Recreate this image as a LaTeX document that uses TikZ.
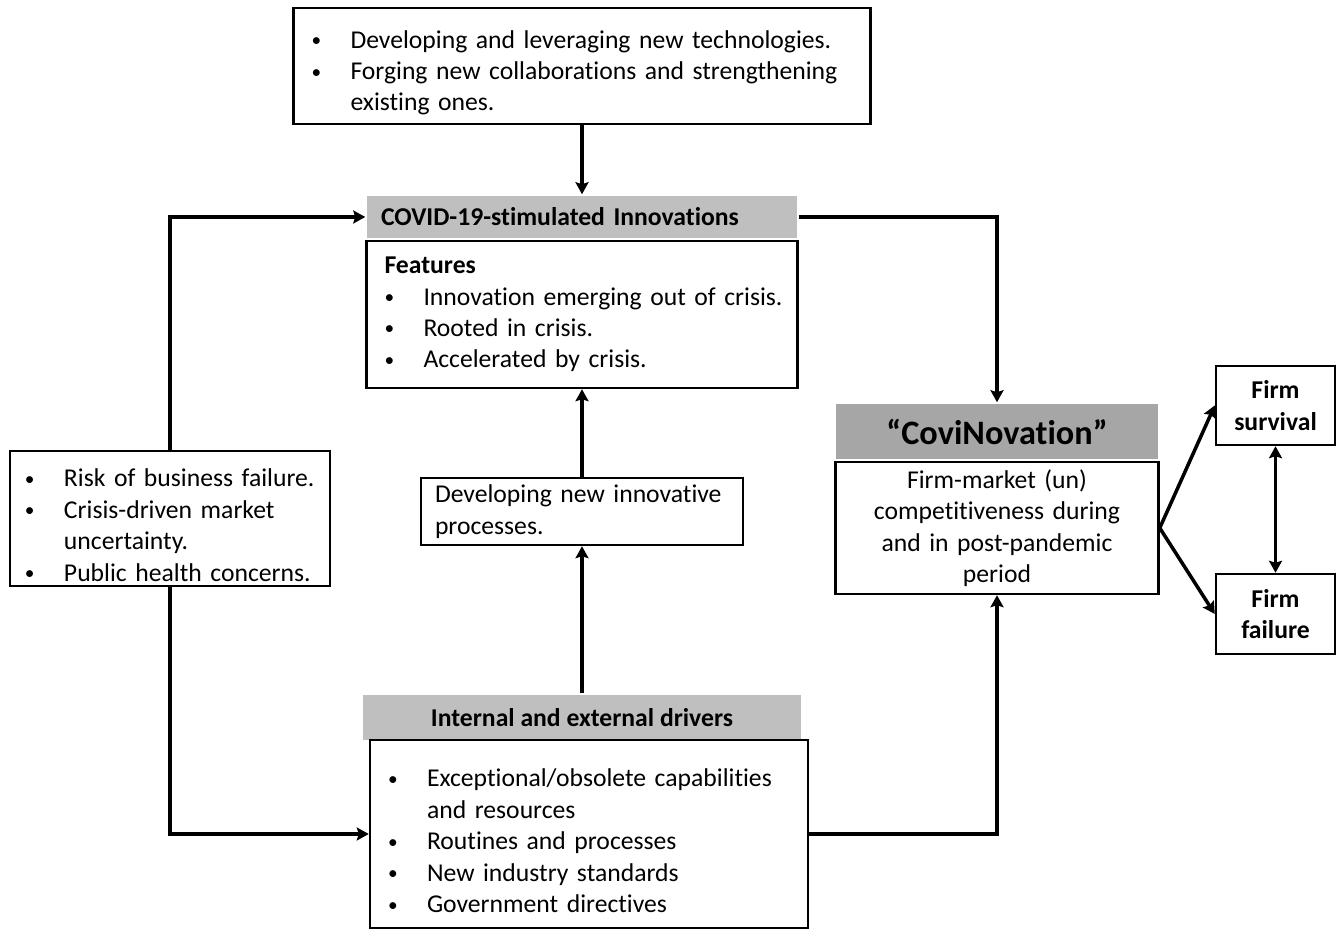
\documentclass[tikz,border=0pt]{standalone}
\usepackage{fontspec}
\setmainfont[Ligatures={NoCommon,NoContextual,NoRare}]{Carlito}
\usepackage{tikz}
\usetikzlibrary{arrows.meta,positioning}

\definecolor{hdrgray}{HTML}{BFBFBF}
\definecolor{covigray}{HTML}{A6A6A6}
\newcommand{\bul}[1]{\par\hangindent=0.78cm\hangafter=1\noindent
  \makebox[0.78cm][l]{\raisebox{0.12ex}{\fontsize{11}{11}\selectfont\textbullet}}\mbox{#1}}

\begin{document}
\begin{tikzpicture}[->,>={Stealth[length=0.24cm,width=0.26cm,inset=0.04cm]},line width=2pt,
                    font=\fontsize{14.6}{17.9}\selectfont]
  \tikzstyle{box}=[draw,line width=1.4pt,fill=white,inner xsep=0.36cm,
                   inner ysep=0.05cm,align=left]
  \tikzstyle{head}=[fill=hdrgray,draw=none,inner sep=0pt,
                    font=\fontsize{14.6}{17.9}\selectfont\bfseries]
  \useasboundingbox (0,0) rectangle (26.76,-18.6);

  \node[box,text width=10.82cm,minimum height=2.32cm] (tech) at (11.64,-1.32)
    {\bul{Developing and leveraging new technologies.}
     \bul{Forging new collaborations and strengthening}\newline\mbox{existing ones.}\par};

  \node[head,text width=8.04cm,inner xsep=0.28cm,minimum height=0.84cm,align=left]
    (covhead) at (11.64,-4.34) {COVID-19-stimulated Innovations};
  \node[box,text width=7.9cm,minimum height=2.94cm,below=0pt of covhead] (feat)
    {\textbf{Features}
     \bul{Innovation emerging out of crisis.}
     \bul{Rooted in crisis.}
     \bul{Accelerated by crisis.}\par};

  \node[box,text width=5.8cm,inner xsep=0.3cm,minimum height=2.70cm] (risk) at (3.40,-10.37)
    {\bul{Risk of business failure.}
     \bul{Crisis-driven market}\newline\mbox{uncertainty.}
     \bul{Public health concerns.}\par};

  \node[box,text width=5.88cm,inner xsep=0.28cm,minimum height=1.34cm] (proc) at (11.64,-10.23)
    {Developing new innovative\newline processes.};

  \node[head,minimum width=8.76cm,minimum height=0.90cm] (drvhead) at (11.64,-14.35)
    {Internal and external drivers};
  \node[box,text width=8.04cm,minimum height=3.76cm] (drv) at (11.78,-16.68)
    {\bul{Exceptional/obsolete capabilities}\newline\mbox{and resources}
     \bul{Routines and processes}
     \bul{New industry standards}
     \bul{Government directives}\par};

  \node[head,fill=covigray,minimum width=6.44cm,minimum height=1.10cm,
        font=\fontsize{19.5}{23}\selectfont\bfseries] (covihead) at (19.94,-8.63)
    {“CoviNovation”};
  \node[box,text width=5.74cm,align=center,minimum height=2.64cm,below=0pt of covihead] (firm)
    {Firm-market (un)\\competitiveness during\\and in post-pandemic\\period};

  \node[box,align=center,inner xsep=0.1cm,minimum width=2.38cm,minimum height=1.58cm,
        font=\fontsize{14.6}{17.9}\selectfont\bfseries] (surv) at (25.51,-8.11) {Firm\\survival};
  \node[box,align=center,inner xsep=0.1cm,minimum width=2.38cm,minimum height=1.60cm,
        font=\fontsize{14.6}{17.9}\selectfont\bfseries] (fail) at (25.51,-12.28) {Firm\\failure};

  \draw (tech.south) -- (covhead.north);
  \draw (risk.north) |- (covhead.west);
  \draw (risk.south) |- (drv.west);
  \draw (covhead.east) -| (covihead.north);
  \draw (drv.east) -| (firm.south);
  \draw (drvhead.north) -- (proc.south);
  \draw (proc.north) -- (feat.south);
  \draw (firm.east) -- (surv.west);
  \draw (firm.east) -- (fail.west);
  \draw[<->] (surv.south) -- (fail.north);
\end{tikzpicture}
\end{document}
